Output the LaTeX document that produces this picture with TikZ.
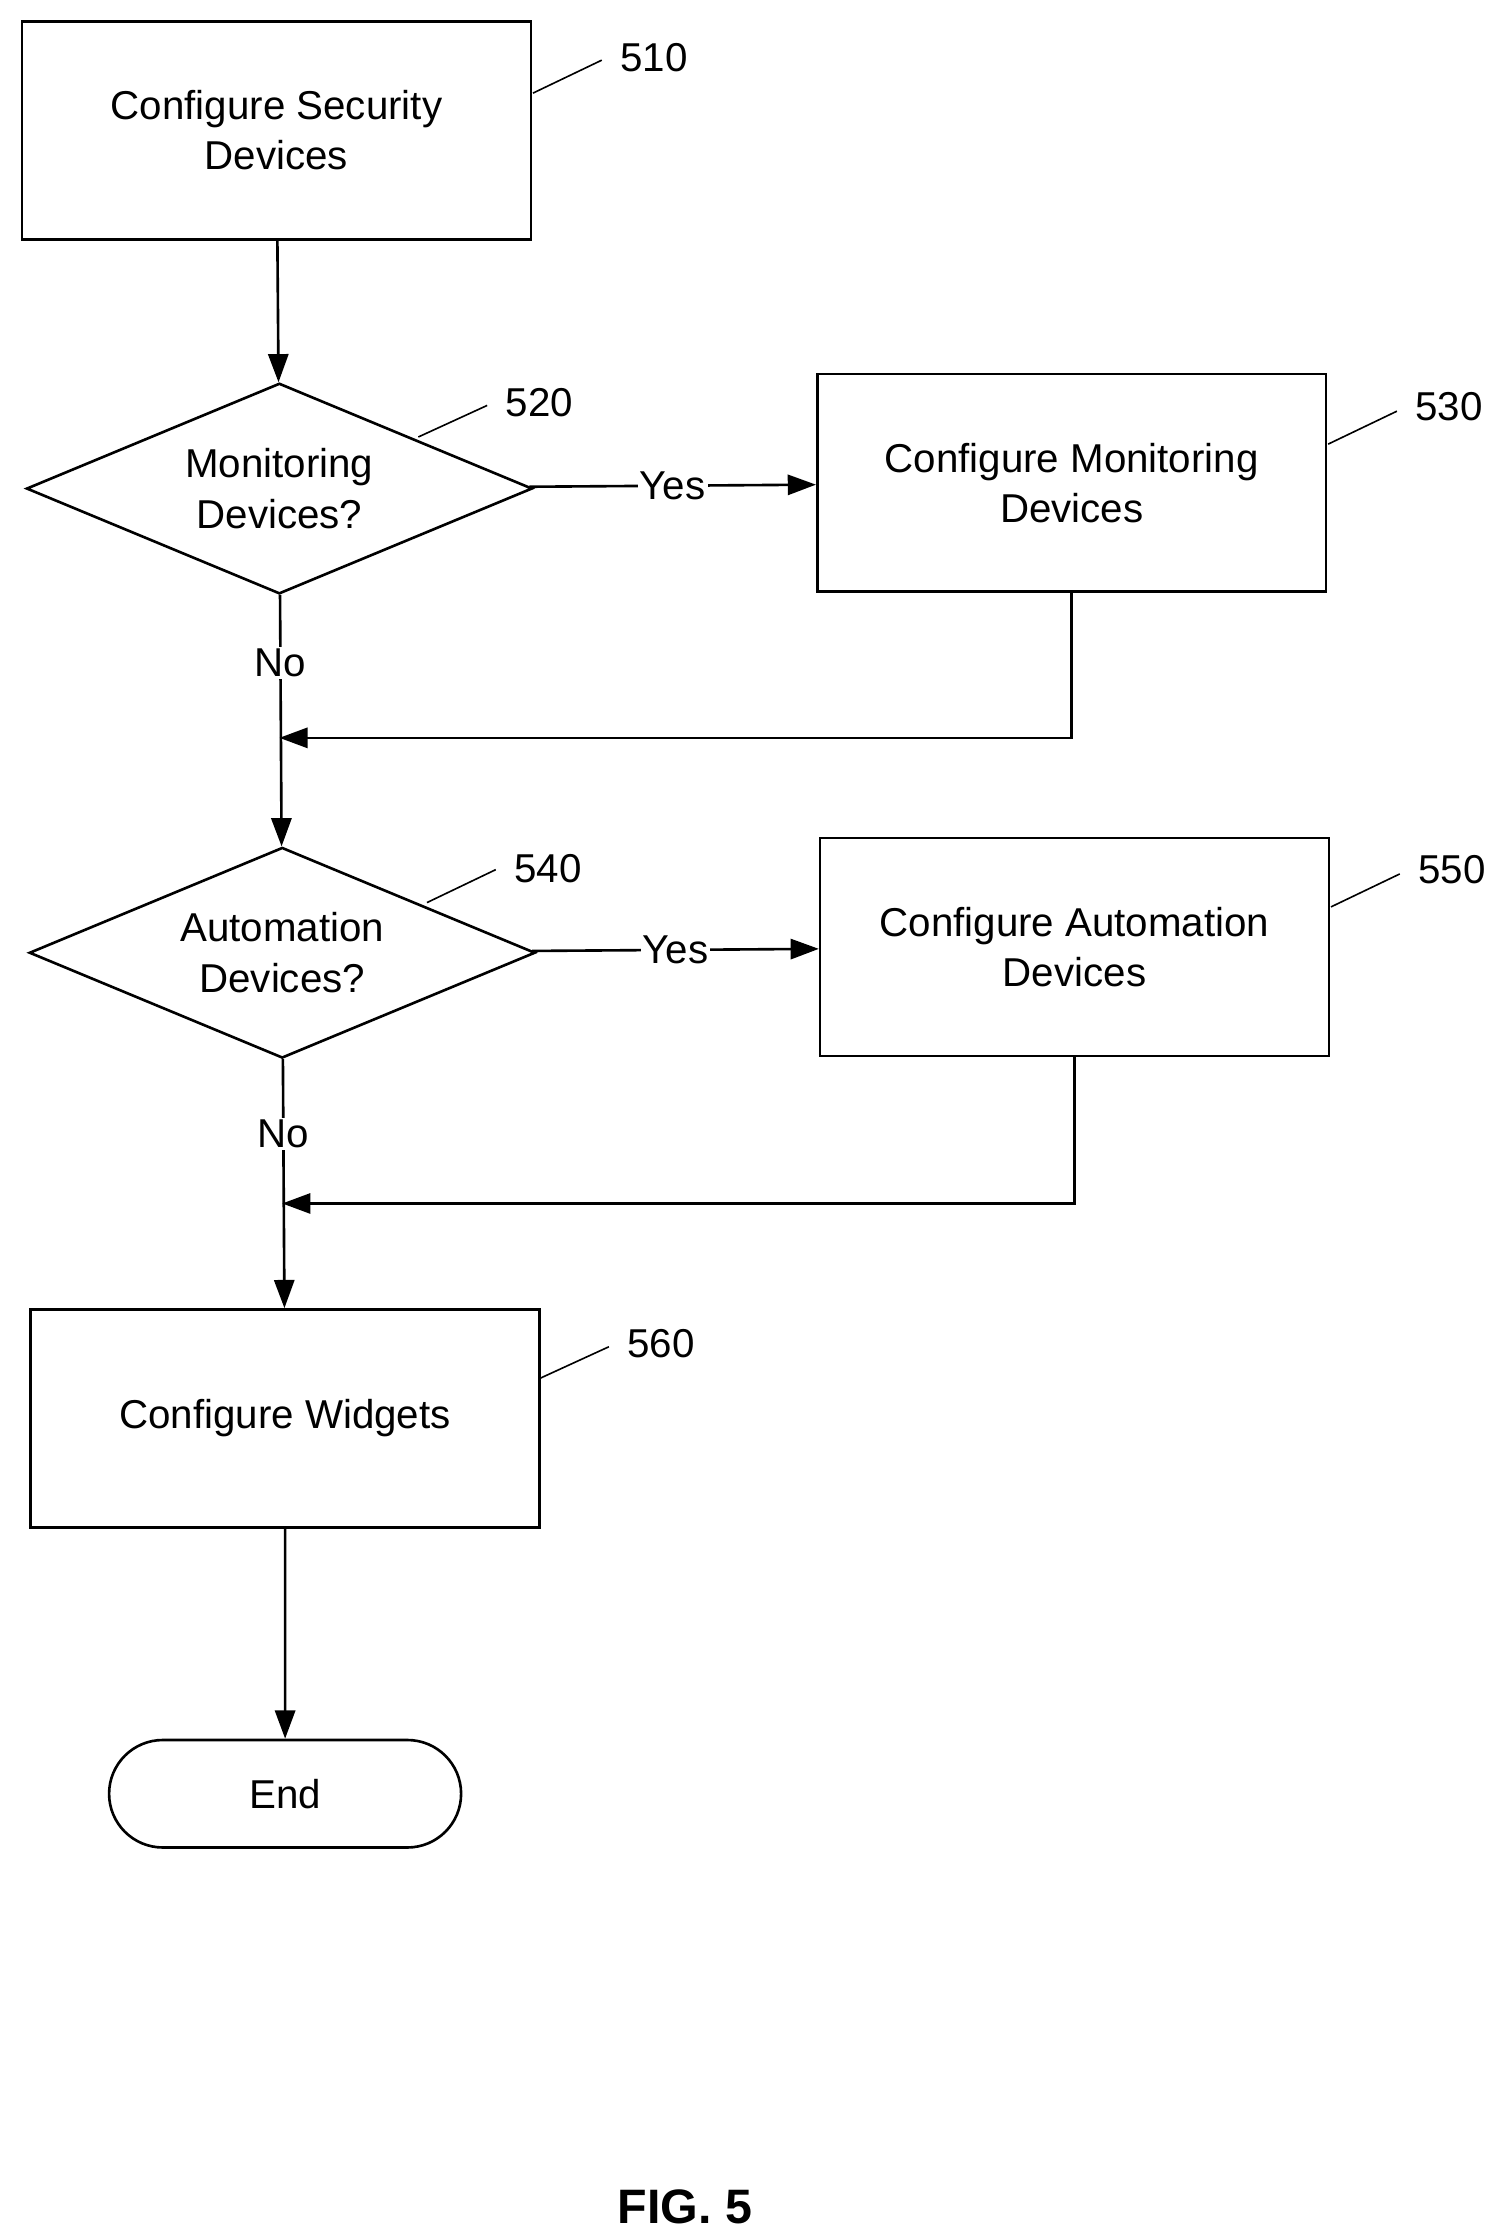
\documentclass[tikz,border=0pt]{standalone}
\usepackage{fontspec}
\setmainfont{Liberation Sans}
\usetikzlibrary{shapes.geometric,shapes.misc,arrows.meta,positioning}

\tikzset{
  task/.style={draw,line width=1.3pt,minimum width=8.875cm,minimum height=3.8cm,align=center,inner sep=0pt},
  decide/.style={draw,diamond,line width=1.3pt,aspect=2.4,minimum width=8.825cm,minimum height=3.675cm,align=center,inner sep=0pt},
  term/.style={draw,rounded rectangle,line width=1.3pt,minimum width=6.375cm,minimum height=1.875cm},
  flow/.style={line width=1.3pt,-{Triangle[length=14pt,width=10pt]}},
  ref/.style={line width=0.8pt},
  ans/.style={fill=white,inner sep=1pt}
}

\begin{document}
\begin{tikzpicture}[x=0.025cm,y=-0.025cm,font=\fontsize{20}{25}\selectfont]
\useasboundingbox (0,0) rectangle (1052,1560);
% boxes
\node[task] (cfgsec) at (193,91) {Configure Security\\Devices};
\node[decide] (mon) at (195,341) {Monitoring\\Devices?};
\node[task] (cfgmon) at (748,337) {Configure Monitoring\\Devices};
\node[decide] (auto) at (197,665) {Automation\\Devices?};
\node[task] (cfgauto) at (750,661) {Configure Automation\\Devices};
\node[task] (widg) at (199,990) {Configure Widgets};
\node[term] (end) at (199,1252) {End};
% join points
\coordinate (j1) at (195,515);
\coordinate (j2) at (197,840);
% connectors
\draw[flow] (cfgsec) -- (mon);
\draw[flow] (mon) -- node[ans]{Yes} (cfgmon);
\draw[flow] (mon) -- node[ans,pos=0.27]{No} (auto);
\draw[flow] (cfgmon.south) |- (j1);
\draw[flow] (auto) -- node[ans]{Yes} (cfgauto);
\draw[flow] (auto) -- node[ans,pos=0.3]{No} (widg);
\draw[flow] (cfgauto.south) |- (j2);
\draw[flow] (widg) -- (end);
% reference numbers
\draw[ref] (372,65) -- (420,42); \node[anchor=west] (n510) at (428,40) {510};
\draw[ref] (292,305) -- (340,283); \node[anchor=west] (n520) at (348,281) {520};
\draw[ref] (927,310) -- (975,287); \node[anchor=west] (n530) at (983,284) {530};
\draw[ref] (298,630) -- (346,607); \node[anchor=west] (n540) at (354,606) {540};
\draw[ref] (929,633) -- (977,610); \node[anchor=west] (n550) at (985,607) {550};
\draw[ref] (377,962) -- (425,940); \node[anchor=west] (n560) at (433,938) {560};
\node[font=\fontsize{24}{28}\selectfont\bfseries] (fig) at (478,1540) {FIG. 5};
\end{tikzpicture}
\end{document}
